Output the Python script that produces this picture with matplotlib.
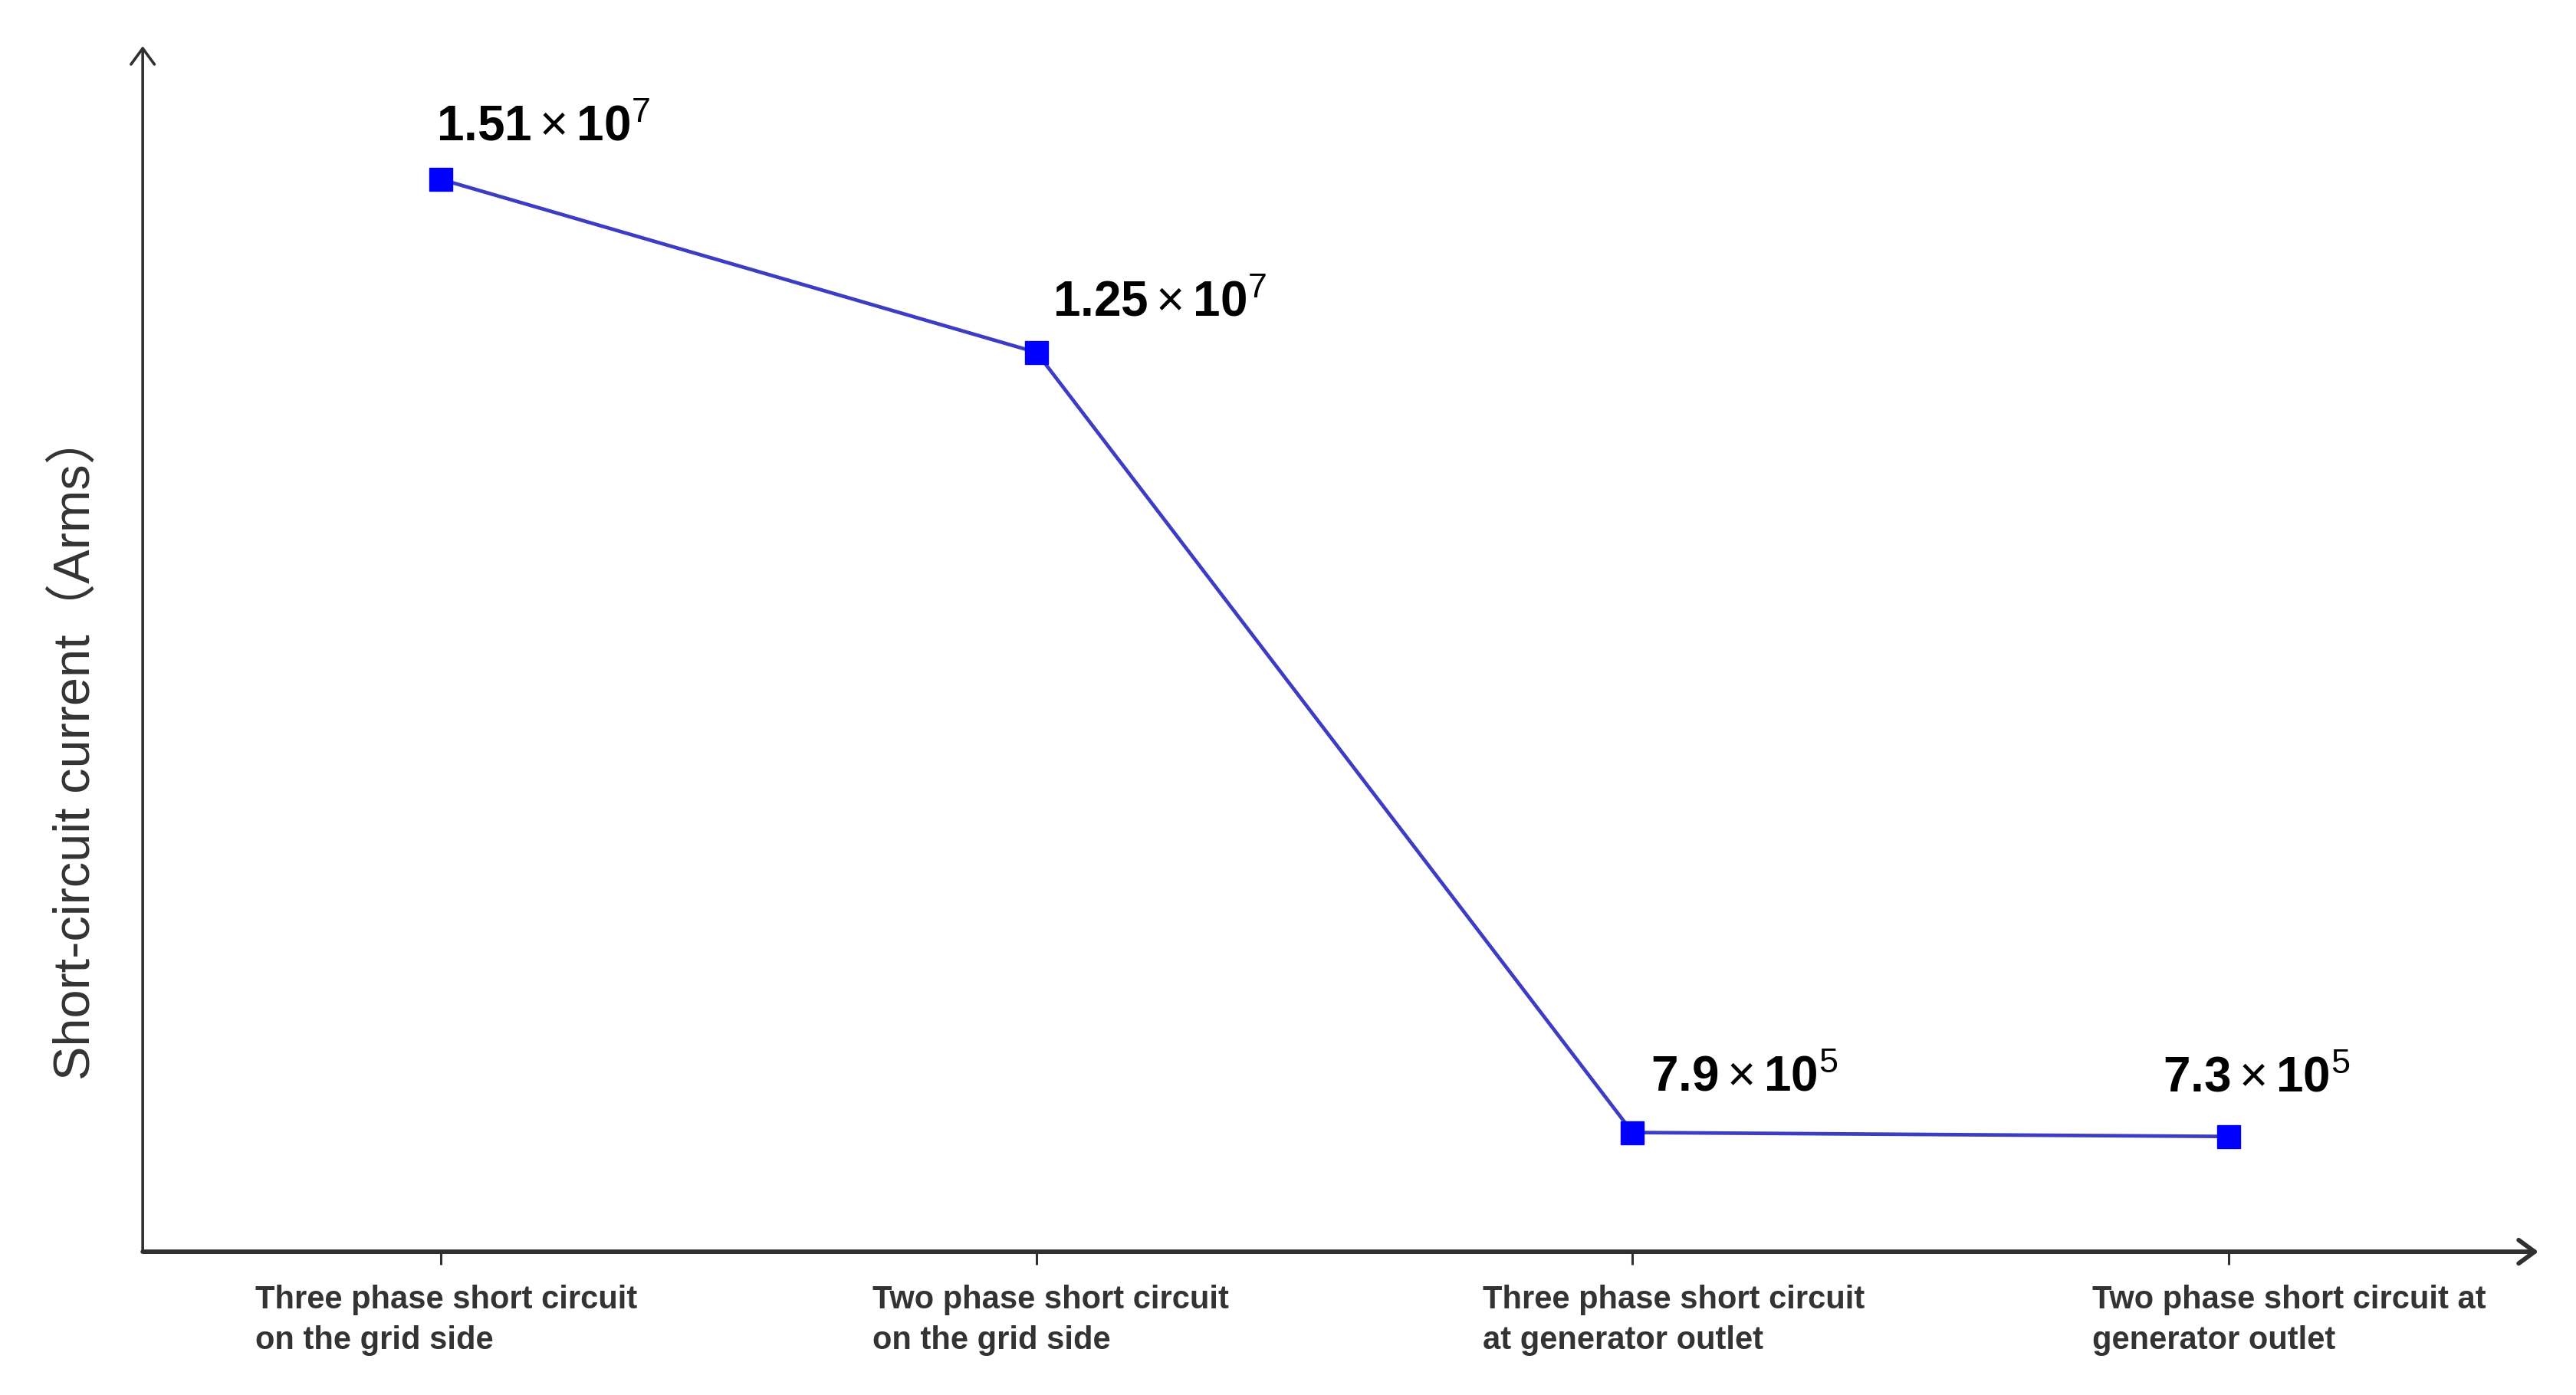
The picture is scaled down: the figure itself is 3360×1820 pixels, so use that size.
import matplotlib
matplotlib.use("Agg")
import matplotlib.pyplot as plt
from matplotlib.transforms import ScaledTranslation

plt.rcParams["font.family"] = ["Liberation Sans", "Noto Sans CJK SC", "DejaVu Sans"]
plt.rcParams["mathtext.fontset"] = "custom"
plt.rcParams["mathtext.rm"] = "Liberation Sans"
plt.rcParams["mathtext.bf"] = "Liberation Sans:bold"
plt.rcParams["mathtext.it"] = "Liberation Sans:italic"

# --- data ---
categories = [
    "Three phase short circuit\non the grid side",
    "Two phase short circuit\non the grid side",
    "Three phase short circuit\nat generator outlet",
    "Two phase short circuit at\ngenerator outlet",
]
currents = [1.51e7, 1.25e7, 7.9e5, 7.3e5]
value_labels = [
    r"$\mathbf{1.51}\times\mathbf{10}^{7}$",
    r"$\mathbf{1.25}\times\mathbf{10}^{7}$",
    r"$\mathbf{7.9}\times\mathbf{10}^{5}$",
    r"$\mathbf{7.3}\times\mathbf{10}^{5}$",
]
ylabel = "Short-circuit current（Arms）"

# label offsets from each marker, in points
label_offsets = [(-4, 36), (15, 34), (17, 39), (-62, 42)]
# horizontal shift of each tick label's left edge from its tick, in inches
tick_label_shift = [-2.42, -2.14, -1.95, -1.78]

AXIS_COLOR = "#303030"

fig = plt.figure(figsize=(33.6, 18.2), dpi=100)
ax = fig.add_axes([0.0554, 0.1027, 0.93, 0.8643])

x = list(range(len(categories)))
ax.plot(x, currents, color="#3c3cc4", lw=3.4, marker="s", ms=21,
        markerfacecolor="#0000ff", markeredgecolor="#0000ff", zorder=3)

for xi, yi, txt, off in zip(x, currents, value_labels, label_offsets):
    ax.annotate(txt, (xi, yi), xytext=off, textcoords="offset points",
                ha="left", va="baseline", fontsize=46, color="black")

ax.set_xlim(-0.5, 3.52)
ax.set_ylim(-1.0e6, 1.71e7)

for side in ["top", "right", "left", "bottom"]:
    ax.spines[side].set_visible(False)

# axis lines with open arrow heads
ax.annotate("", xy=(1, 0), xytext=(0, 0), xycoords="axes fraction",
            arrowprops=dict(arrowstyle="->,head_length=0.75,head_width=0.55",
                            lw=4.2, color=AXIS_COLOR, shrinkA=0, shrinkB=0,
                            mutation_scale=20), annotation_clip=False)
ax.annotate("", xy=(0, 1), xytext=(0, 0), xycoords="axes fraction",
            arrowprops=dict(arrowstyle="->,head_length=0.75,head_width=0.55",
                            lw=2.6, color=AXIS_COLOR, shrinkA=0, shrinkB=0,
                            mutation_scale=20), annotation_clip=False)

ax.set_yticks([])
ax.set_xticks(x)
ax.set_xticklabels(categories, fontsize=30, fontweight="bold", color="#333333",
                   ha="left", linespacing=1.4)
ax.tick_params(axis="x", direction="out", length=12, width=2.2,
               color=AXIS_COLOR, pad=19)
for lab, dx in zip(ax.get_xticklabels(), tick_label_shift):
    lab.set_transform(lab.get_transform() + ScaledTranslation(dx, 0, fig.dpi_scale_trans))

ax.set_ylabel(ylabel, fontsize=48, color="#333333", va="center")
ax.yaxis.set_label_coords(-0.028, 0.419)

fig.savefig("out.png", dpi=100, facecolor="white")
